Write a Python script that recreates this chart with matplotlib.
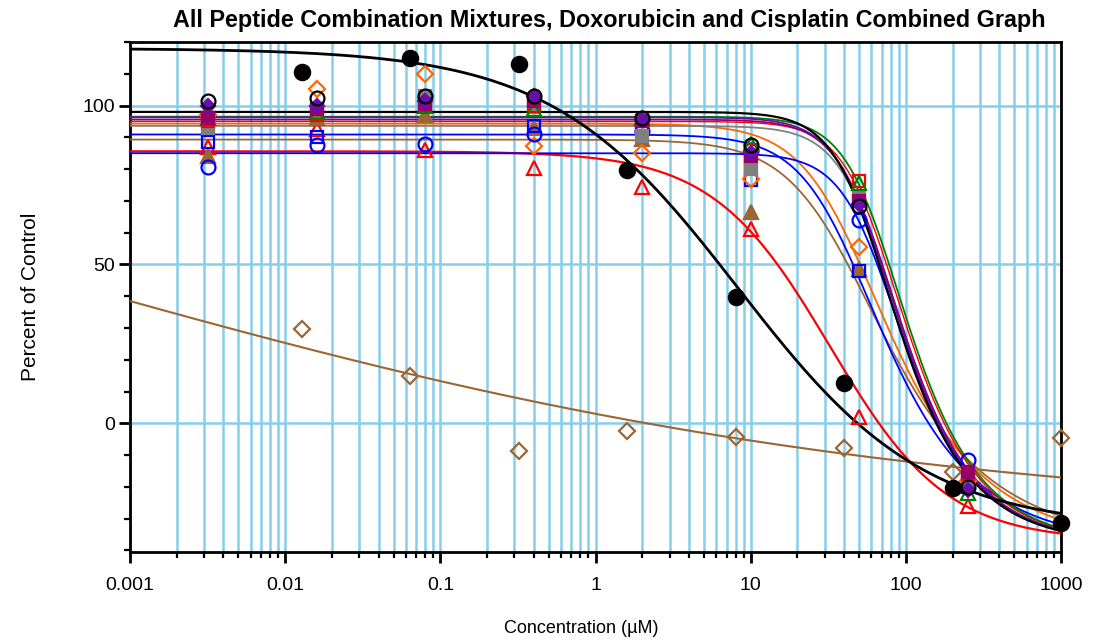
import numpy as np
import matplotlib
matplotlib.use("Agg")
import matplotlib.pyplot as plt
from matplotlib.ticker import FixedLocator, MultipleLocator, FuncFormatter, NullFormatter

plt.rcParams['font.family'] = ['Liberation Sans', 'DejaVu Sans']

# concentrations (uM)
conc_mix = [0.0032, 0.016, 0.08, 0.4, 2, 10, 50, 250]
conc_drug = [0.0128, 0.064, 0.32, 1.6, 8, 40, 200, 1000]
decades = [0.001, 0.01, 0.1, 1, 10, 100, 1000]

# percent of control, peptide mixtures
mix_black = [101.3, 102.5, 103, 103, 96, 87.5, 68.5, -20]
mix_purple = [100, 100, 101.5, 103, 95.5, 85, 69, -21]
mix_magenta = [96, 99, 100.5, 101.5, 95, 84, 70, -15.4]
mix_grey = [93, 99, 103, 99.5, 90.5, 80, 71, -18]
mix_blue_sq = [88.5, 90, 101.5, 93.7, 93.7, 76.5, 48, -20]
mix_red_tri = [87, 92.5, 86, 80.5, 74.5, 61, 2, -26]
mix_brown = [84, 96, 97, 93, 89.6, 66.5, 48.5, -17]
mix_blue_ci = [80.8, 87.5, 88, 91, 92, 86, 64, -11.6]
mix_orange = [97, 105.3, 110, 87.4, 85, 77, 55.5, -18]
mix_green = [96, 98, 100, 99, 96, 88, 75.5, -22]
mix_red_sq = [95, 97, 100, 100, 95, 86, 76.4, -16]

# percent of control, drugs
doxorubicin = [110.6, 114.9, 113, 79.8, 39.8, 12.7, -20.4, -31.4]
cisplatin = [29.6, 14.8, -8.8, -2.5, -4.4, -7.9, -15.4, -4.7]

# fitted curve parameters: top, bottom, logEC50, hill slope, asymmetry
fit_black = (98, -38, 1.75, 2.7, 0.45)
fit_purple = (96.3, -38, 1.77, 2.7, 0.45)
fit_magenta = (95.6, -38, 1.78, 2.7, 0.45)
fit_grey = (93.6, -38, 1.785, 2.7, 0.45)
fit_blue_sq = (90.9, -38, 1.6, 2.1, 0.45)
fit_red_tri = (85.6, -37, 1.51, 1.15, 1.0)
fit_brown = (89.3, -38, 1.568, 1.8, 0.45)
fit_blue_ci = (85, -38, 1.8, 2.7, 0.45)
fit_orange = (94.3, -38, 1.62, 2.0, 0.45)
fit_green = (96.5, -38, 1.82, 2.7, 0.45)
fit_red_sq = (95, -38, 1.81, 2.7, 0.45)
fit_dox = (118, -33, 0.92, 0.72, 1.0)
fit_cis = (120, -30, -3.48, 0.158, 1.0)


def curve(x, top, bottom, logc, hill, asym):
    return bottom + (top - bottom) / (1 + 10 ** (hill * (np.log10(x) - logc))) ** asym


# conc, values, fit, colour, marker, filled, marker size, line width
series = [
    (conc_drug, cisplatin, fit_cis, '#9C6633', 'D', False, 8, 1.5),
    (conc_mix, mix_red_tri, fit_red_tri, '#FF0000', '^', False, 10, 1.6),
    (conc_mix, mix_brown, fit_brown, '#9C6633', '^', True, 10, 1.3),
    (conc_mix, mix_blue_sq, fit_blue_sq, '#0000FF', 's', False, 9, 1.3),
    (conc_mix, mix_orange, fit_orange, '#FF6600', 'D', False, 8, 1.3),
    (conc_mix, mix_blue_ci, fit_blue_ci, '#0000FF', 'o', False, 10, 1.3),
    (conc_mix, mix_grey, fit_grey, '#808080', 's', True, 9, 1.3),
    (conc_mix, mix_red_sq, fit_red_sq, '#FF0000', 's', False, 9, 1.0),
    (conc_mix, mix_green, fit_green, '#008000', '^', False, 10, 1.3),
    (conc_mix, mix_magenta, fit_magenta, '#990066', 's', True, 9, 1.3),
    (conc_mix, mix_purple, fit_purple, '#6A0DAD', 'D', True, 7, 1.3),
    (conc_mix, mix_black, fit_black, '#000000', 'o', False, 10, 1.6),
    (conc_drug, doxorubicin, fit_dox, '#000000', 'o', True, 11, 2.0),
]

fig = plt.figure(figsize=(10.95, 6.41), dpi=100)
ax = fig.add_axes([130 / 1095, 1 - 552 / 641, 931 / 1095, 510 / 641])

xs = np.logspace(-3, 3, 600)
for conc, vals, fit, color, marker, filled, ms, lw in series:
    ax.plot(xs, curve(xs, *fit), color=color, lw=lw, zorder=3)
    ax.plot(conc, vals, linestyle='none', marker=marker, ms=ms,
            markerfacecolor=color if filled else 'none',
            markeredgecolor=color, markeredgewidth=1.6, zorder=4, clip_on=False)

ax.set_xscale('log')
ax.set_xlim(0.001, 1000)
ax.set_ylim(-40.5, 120)

minor_x = [d * k for d in decades[:-1] for k in range(2, 10)]
ax.xaxis.set_major_locator(FixedLocator(decades))
ax.xaxis.set_minor_locator(FixedLocator(minor_x))
ax.xaxis.set_major_formatter(FuncFormatter(lambda v, p: f'{v:g}'))
ax.xaxis.set_minor_formatter(NullFormatter())
ax.yaxis.set_major_locator(FixedLocator([0, 50, 100]))
ax.yaxis.set_minor_locator(MultipleLocator(10))

ax.set_axisbelow(True)
ax.grid(which='both', axis='x', color='#87CEEB', lw=1.8)
ax.grid(which='major', axis='y', color='#87CEEB', lw=1.8)

for sp in ax.spines.values():
    sp.set_linewidth(2)
ax.tick_params(which='major', length=8, width=2, labelsize=14, pad=3)
ax.tick_params(axis='x', which='major', pad=10)
ax.tick_params(which='minor', length=4, width=1.6)

ax.set_title('All Peptide Combination Mixtures, Doxorubicin and Cisplatin Combined Graph',
             fontsize=16.8, fontweight='bold', pad=11, x=0.515)
ax.set_xlabel('Concentration (µM)', fontsize=13, labelpad=19, x=0.485)
ax.set_ylabel('Percent of Control', fontsize=15, labelpad=30)

fig.savefig('out.png', dpi=100)
